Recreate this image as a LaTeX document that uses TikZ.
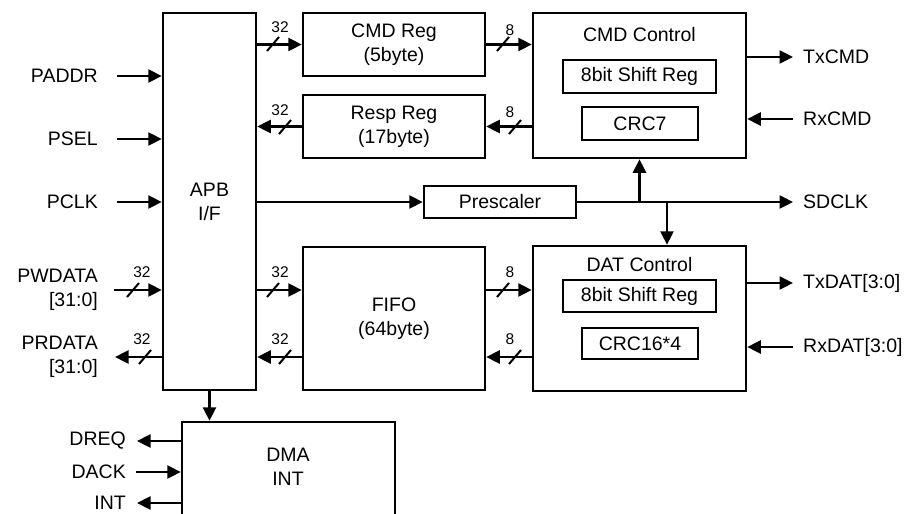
\documentclass[tikz,border=0pt]{standalone}
\usepackage{fontspec}
\setmainfont{Liberation Sans}
\usetikzlibrary{arrows.meta,calc}
\newcommand\busmark[6]{%
  \draw[busslash] (#2,#3) ++(-6,7) -- ++(12,-14);
  \node[buslbl] (#1) at (#4,#5) {#6};}
\begin{document}
\begin{tikzpicture}[x=1pt,y=-1pt,
  lblfont/.style={font=\fontsize{19.5}{24}\selectfont},
  box/.style={draw, line width=2.5pt, inner sep=0pt, align=center, lblfont},
  txt/.style={inner sep=0pt, align=center, lblfont},
  lft/.style={inner sep=0pt, align=right, anchor=east, lblfont},
  rgt/.style={inner sep=0pt, align=left, anchor=west, lblfont},
  arr/.style={line width=2.5pt, -{Triangle[length=13.5pt,width=13pt]}},
  busslash/.style={line width=2pt},
  buslbl/.style={inner sep=0pt, font=\fontsize{15.5}{17}\selectfont}]
\clip (0,0) rectangle (905,514);
\fill[white] (0,0) rectangle (905,514);

% blocks
\node[box, minimum width=93pt, minimum height=377pt] (apb) at (209.5,201.5) {APB\\I/F};
\node[box, minimum width=182pt, minimum height=63pt] (cmdreg) at (394,44.5) {CMD Reg\\(5byte)};
\node[box, minimum width=182pt, minimum height=63pt] (respreg) at (394,126.5) {Resp Reg\\(17byte)};
\node[box, minimum width=213pt, minimum height=145pt] (cmdctl) at (639.5,85.5) {};
\node[txt] (cmdctltitle) at (639.5,35) {CMD Control};
\node[box, minimum width=153pt, minimum height=33pt] (cmdsr) at (639.5,76.5) {8bit Shift Reg};
\node[box, minimum width=116pt, minimum height=33pt] (crc7) at (640,123.5) {CRC7};
\node[box, minimum width=152pt, minimum height=32pt] (presc) at (500,202) {Prescaler};
\node[box, minimum width=213pt, minimum height=145pt] (datctl) at (639.5,318.5) {};
\node[txt] (datctltitle) at (639.5,265) {DAT Control};
\node[box, minimum width=153pt, minimum height=32pt] (datsr) at (639.5,296) {8bit Shift Reg};
\node[box, minimum width=116pt, minimum height=31pt] (crc16) at (640,343.5) {CRC16*4};
\node[box, minimum width=182pt, minimum height=143pt] (fifo) at (394,318.5) {FIFO\\(64byte)};
\node[box, minimum width=213pt, minimum height=138pt] (dma) at (288.5,491) {};
\node[txt] (dmatxt) at (288,467) {DMA\\INT};

% signal labels
\node[lft] (paddr) at (98,76) {PADDR};
\node[lft] (psel) at (98,139) {PSEL};
\node[lft] (pclk) at (98,202) {PCLK};
\node[lft] (pwdata) at (98,290) {PWDATA\\{}[31:0]};
\node[lft] (prdata) at (98,357) {PRDATA\\{}[31:0]};
\node[lft] (dreq) at (126,441) {DREQ};
\node[lft] (dack) at (126,472) {DACK};
\node[lft] (int) at (126,503) {INT};
\node[rgt] (txcmd) at (803,57) {TxCMD};
\node[rgt] (rxcmd) at (803,119) {RxCMD};
\node[rgt] (sdclk) at (803,202) {SDCLK};
\node[rgt] (txdat) at (803,283) {TxDAT[3:0]};
\node[rgt] (rxdat) at (803,347) {RxDAT[3:0]};

\coordinate (rowin) at (0,290);
\coordinate (rowout) at (0,357);

% APB side inputs
\draw[arr] ([xshift=19pt]paddr.east) -- (paddr.east -| apb.west);
\draw[arr] ([xshift=19pt]psel.east) -- (psel.east -| apb.west);
\draw[arr] ([xshift=19pt]pclk.east) -- (pclk.east -| apb.west);
\draw[arr] ([xshift=16pt]pwdata.east) -- (pwdata.east -| apb.west);
\draw[arr] (prdata.east -| apb.west) -- ([xshift=17pt]prdata.east);

% DMA
\draw[arr] (apb.south) -- (apb.south |- dma.north);
\draw[arr] (dreq.east -| dma.west) -- ([xshift=11pt]dreq.east);
\draw[arr] ([xshift=10pt]dack.east) -- (dack.east -| dma.west);
\draw[arr] (int.east -| dma.west) -- ([xshift=11pt]int.east);

% registers
\draw[arr] (cmdreg.west -| apb.east) -- (cmdreg.west);
\draw[arr] (respreg.west) -- (respreg.west -| apb.east);
\draw[arr] (cmdreg.east) -- (cmdreg.east -| cmdctl.west);
\draw[arr] (respreg.east -| cmdctl.west) -- (respreg.east);

% FIFO
\draw[arr] (rowin -| apb.east) -- (rowin -| fifo.west);
\draw[arr] (rowout -| fifo.west) -- (rowout -| apb.east);
\draw[arr] (rowin -| fifo.east) -- (rowin -| datctl.west);
\draw[arr] (rowout -| datctl.west) -- (rowout -| fifo.east);

% clock
\draw[arr] (presc.west -| apb.east) -- (presc.west);
\draw[arr] (presc.east) -- ([xshift=-10pt]sdclk.west);
\coordinate (j1) at (cmdctl.south |- presc.east);
\coordinate (j2) at (667,202);
\draw[arr] (j1) -- (cmdctl.south);
\draw[arr] (j2) -- (j2 |- datctl.north);

% right side
\draw[arr] (txcmd.west -| cmdctl.east) -- ([xshift=-10pt]txcmd.west);
\draw[arr] ([xshift=-10pt]rxcmd.west) -- (rxcmd.west -| cmdctl.east);
\draw[arr] (txdat.west -| datctl.east) -- ([xshift=-10pt]txdat.west);
\draw[arr] ([xshift=-10pt]rxdat.west) -- (rxdat.west -| datctl.east);

% bus width marks
\busmark{bw1}{273}{44}{280}{27}{32}
\busmark{bw2}{285}{127}{280}{110}{32}
\busmark{bw3}{503}{44}{510}{30}{8}
\busmark{bw4}{515}{127}{510}{112}{8}
\busmark{bw5}{133}{290}{142}{272}{32}
\busmark{bw6}{145}{357}{142}{339}{32}
\busmark{bw7}{273}{290}{280}{272}{32}
\busmark{bw8}{285}{357}{280}{339}{32}
\busmark{bw9}{503}{290}{510}{272}{8}
\busmark{bw10}{515}{357}{510}{339}{8}
\end{tikzpicture}
\end{document}
